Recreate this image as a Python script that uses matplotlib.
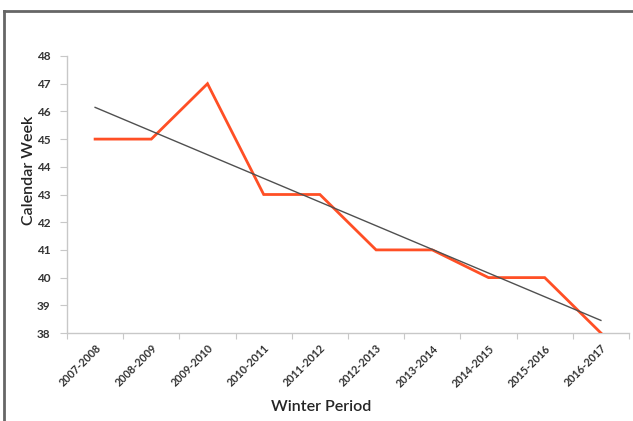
import matplotlib
matplotlib.use("Agg")
import matplotlib.pyplot as plt
import numpy as np
from matplotlib.lines import Line2D

periods = ["2007-2008", "2008-2009", "2009-2010", "2010-2011", "2011-2012",
           "2012-2013", "2013-2014", "2014-2015", "2015-2016", "2016-2017"]
weeks = [45, 45, 47, 43, 43, 41, 41, 40, 40, 38]
y_ticks = [38, 39, 40, 41, 42, 43, 44, 45, 46, 47, 48]

plt.rcParams['font.family'] = ['Lato', 'DejaVu Sans']

fig = plt.figure(figsize=(6.33, 4.21), dpi=100)
W, H = 633, 421
ax = fig.add_axes([67 / W, 1 - 333 / H, (629 - 67) / W, (333 - 56) / H])

x = np.arange(len(periods))
ax.plot(x, weeks, color="#ff4f25", lw=2.0, solid_joinstyle="miter", zorder=3)
coef = np.polyfit(x, weeks, 1)
ax.plot(x, np.polyval(coef, x), color="#505050", lw=1.0, zorder=4)

ax.set_xlim(-0.5, len(periods) - 0.5)
ax.set_ylim(38, 48)
ax.set_yticks(y_ticks)
ax.set_yticklabels([str(v) for v in y_ticks])
ax.set_xticks(np.arange(len(periods) + 1) - 0.5)
ax.set_xticklabels([])
ax.set_xticks(x, minor=True)
ax.set_xticklabels(periods, minor=True, rotation=45, ha="right", va="top",
                   rotation_mode="anchor", fontsize=7.8, fontweight="bold", color="#333333")
ax.tick_params(axis="x", which="minor", length=0, pad=7)
ax.tick_params(axis="x", which="major", length=4, color="#c8c8c8", direction="out")
ax.tick_params(axis="y", length=5, color="#c8c8c8", labelsize=8.5, labelcolor="#333333", pad=7)
for lbl in ax.get_yticklabels():
    lbl.set_fontweight("bold")

for s in ["top", "right"]:
    ax.spines[s].set_visible(False)
for s in ["left", "bottom"]:
    ax.spines[s].set_color("#c8c8c8")
    ax.spines[s].set_linewidth(1.0)

fig.text(29 / W, 1 - 170 / H, "Calendar Week", fontsize=11.5, color="#252525",
         fontweight="semibold", rotation=90, ha="center", va="center")
fig.text(321 / W, 1 - 407 / H, "Winter Period", fontsize=11.5, color="#252525",
         fontweight="semibold", ha="center", va="center")

# figure frame (top and left border)
fig.add_artist(Line2D([4 / W, 1.0], [1 - 11 / H, 1 - 11 / H], transform=fig.transFigure,
                      color="#666666", lw=2))
fig.add_artist(Line2D([4 / W, 4 / W], [0, 1 - 11 / H], transform=fig.transFigure,
                      color="#666666", lw=2))

fig.savefig("out.png", dpi=100)
